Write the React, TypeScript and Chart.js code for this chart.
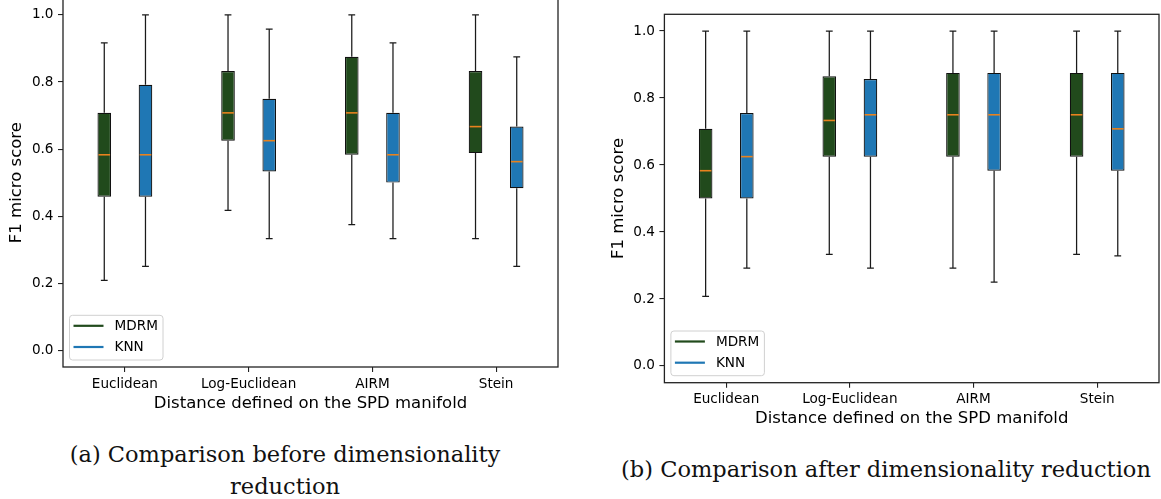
import React, { useEffect, useRef } from 'react';
import { Chart, registerables } from 'chart.js';

Chart.register(...registerables);

// ---------- data ----------
const CATEGORIES = ['Euclidean', 'Log-Euclidean', 'AIRM', 'Stein'];
const SERIES_LABELS = ['MDRM', 'KNN'];
const Y_TICKS = [0.0, 0.2, 0.4, 0.6, 0.8, 1.0];
const X_TITLE = 'Distance defined on the SPD manifold';
const Y_TITLE = 'F1 micro score';
const CAPTION_A_LINE1 = '(a) Comparison before dimensionality';
const CAPTION_A_LINE2 = 'reduction';
const CAPTION_B = '(b) Comparison after dimensionality reduction';

// (a) before dimensionality reduction
const MDRM_BEFORE_MIN = [0.208, 0.417, 0.375, 0.333];
const MDRM_BEFORE_Q1 = [0.458, 0.625, 0.583, 0.588];
const MDRM_BEFORE_MED = [0.583, 0.708, 0.708, 0.667];
const MDRM_BEFORE_Q3 = [0.708, 0.833, 0.875, 0.833];
const MDRM_BEFORE_MAX = [0.917, 1.0, 1.0, 1.0];

const KNN_BEFORE_MIN = [0.25, 0.333, 0.333, 0.25];
const KNN_BEFORE_Q1 = [0.458, 0.533, 0.5, 0.483];
const KNN_BEFORE_MED = [0.583, 0.625, 0.583, 0.5625];
const KNN_BEFORE_Q3 = [0.792, 0.75, 0.708, 0.667];
const KNN_BEFORE_MAX = [1.0, 0.958, 0.917, 0.875];

// (b) after dimensionality reduction
const MDRM_AFTER_MIN = [0.208, 0.333, 0.292, 0.333];
const MDRM_AFTER_Q1 = [0.5, 0.625, 0.625, 0.625];
const MDRM_AFTER_MED = [0.583, 0.733, 0.75, 0.75];
const MDRM_AFTER_Q3 = [0.708, 0.865, 0.875, 0.875];
const MDRM_AFTER_MAX = [1.0, 1.0, 1.0, 1.0];

const KNN_AFTER_MIN = [0.292, 0.292, 0.25, 0.329];
const KNN_AFTER_Q1 = [0.5, 0.625, 0.583, 0.583];
const KNN_AFTER_MED = [0.625, 0.75, 0.75, 0.708];
const KNN_AFTER_Q3 = [0.755, 0.857, 0.875, 0.875];
const KNN_AFTER_MAX = [1.0, 1.0, 1.0, 1.0];

// ---------- styles ----------
const GREEN = '#214a1c';
const BLUE = '#1f77b4';
const MEDIAN_COLOR = '#e8821e';
const EDGE = '#111111';
const SANS = 'DejaVu Sans';
const TICK_SIZE = 13.6;
const LABEL_SIZE = 16.5;

type BoxStats = { min: number[]; q1: number[]; med: number[]; q3: number[]; max: number[] };

function makeDataset(label: string, color: string, s: BoxStats) {
  return {
    label,
    data: s.q1.map((q, i) => [q, s.q3[i]]),
    backgroundColor: color,
    borderColor: EDGE,
    borderWidth: 1.2,
    borderSkipped: false,
    categoryPercentage: 0.666,
    barPercentage: 0.33,
    boxStats: s,
  };
}

const boxWhiskerPlugin = {
  id: 'boxWhiskers',
  afterDatasetsDraw(chart: any) {
    const ctx = chart.ctx;
    const y = chart.scales.y;
    chart.data.datasets.forEach((ds: any, di: number) => {
      const meta = chart.getDatasetMeta(di);
      const s: BoxStats = ds.boxStats;
      meta.data.forEach((bar: any, i: number) => {
        const x = bar.x;
        const w = bar.width;
        const yMin = y.getPixelForValue(s.min[i]);
        const yQ1 = y.getPixelForValue(s.q1[i]);
        const yMed = y.getPixelForValue(s.med[i]);
        const yQ3 = y.getPixelForValue(s.q3[i]);
        const yMax = y.getPixelForValue(s.max[i]);
        ctx.save();
        ctx.strokeStyle = '#1a1a1a';
        ctx.lineWidth = 1.25;
        ctx.beginPath();
        ctx.moveTo(x, yQ1);
        ctx.lineTo(x, yMin);
        ctx.moveTo(x, yQ3);
        ctx.lineTo(x, yMax);
        ctx.moveTo(x - w / 4, yMin);
        ctx.lineTo(x + w / 4, yMin);
        ctx.moveTo(x - w / 4, yMax);
        ctx.lineTo(x + w / 4, yMax);
        ctx.stroke();
        ctx.strokeStyle = MEDIAN_COLOR;
        ctx.lineWidth = 1.6;
        ctx.beginPath();
        ctx.moveTo(x - w / 2 + 1, yMed);
        ctx.lineTo(x + w / 2 - 1, yMed);
        ctx.stroke();
        ctx.restore();
      });
    });
  },
};

const frameLegendPlugin = {
  id: 'frameLegend',
  afterDraw(chart: any) {
    const { ctx, chartArea: a } = chart;
    ctx.save();
    ctx.strokeStyle = '#222222';
    ctx.lineWidth = 1.3;
    ctx.strokeRect(a.left, a.top, a.right - a.left, a.bottom - a.top);

    // legend (matplotlib style, lower left)
    const bw = 93.5;
    const bh = 44.7;
    const bx = a.left + 6.5;
    const by = a.bottom - 7 - bh;
    const r = 3;
    ctx.beginPath();
    ctx.moveTo(bx + r, by);
    ctx.lineTo(bx + bw - r, by);
    ctx.arcTo(bx + bw, by, bx + bw, by + r, r);
    ctx.lineTo(bx + bw, by + bh - r);
    ctx.arcTo(bx + bw, by + bh, bx + bw - r, by + bh, r);
    ctx.lineTo(bx + r, by + bh);
    ctx.arcTo(bx, by + bh, bx, by + bh - r, r);
    ctx.lineTo(bx, by + r);
    ctx.arcTo(bx, by, bx + r, by, r);
    ctx.closePath();
    ctx.fillStyle = 'rgba(255,255,255,0.85)';
    ctx.fill();
    ctx.strokeStyle = '#d0d0d0';
    ctx.lineWidth = 1;
    ctx.stroke();

    const rowY = [by + 10.5, by + 31.7];
    chart.data.datasets.forEach((ds: any, i: number) => {
      ctx.strokeStyle = ds.backgroundColor;
      ctx.lineWidth = 2.2;
      ctx.beginPath();
      ctx.moveTo(bx + 4, rowY[i]);
      ctx.lineTo(bx + 34, rowY[i]);
      ctx.stroke();
      ctx.fillStyle = '#000';
      ctx.font = `${TICK_SIZE}px "${SANS}"`;
      ctx.textBaseline = 'middle';
      ctx.textAlign = 'left';
      ctx.fillText(ds.label, bx + 45, rowY[i] + 0.5);
    });
    ctx.restore();
  },
};

type PanelProps = {
  left: number;
  top: number;
  width: number;
  height: number;
  padLeft: number;
  padTop: number;
  padRight: number;
  yAxisWidth: number;
  xAxisHeight: number;
  xTitlePadBottom: number;
  mdrm: BoxStats;
  knn: BoxStats;
};

function BoxPanel(p: PanelProps) {
  const ref = useRef<HTMLCanvasElement | null>(null);
  useEffect(() => {
    if (!ref.current) return;
    const grid = {
      display: true,
      drawOnChartArea: false,
      drawTicks: true,
      tickLength: 5,
      color: '#222',
      lineWidth: 1.1,
      offset: false,
    };
    const chart = new Chart(ref.current, {
      type: 'bar',
      data: {
        labels: CATEGORIES,
        datasets: [
          makeDataset(SERIES_LABELS[0], GREEN, p.mdrm),
          makeDataset(SERIES_LABELS[1], BLUE, p.knn),
        ] as any,
      },
      options: {
        responsive: false,
        animation: false,
        devicePixelRatio: 1,
        layout: { padding: { left: p.padLeft, top: p.padTop, right: p.padRight, bottom: 0 } },
        plugins: { legend: { display: false }, tooltip: { enabled: false } },
        scales: {
          x: {
            type: 'category',
            offset: true,
            grid,
            border: { display: false },
            ticks: {
              color: '#000',
              font: { family: SANS, size: TICK_SIZE },
              padding: 4,
              maxRotation: 0,
              autoSkip: false,
            },
            title: {
              display: true,
              text: X_TITLE,
              color: '#000',
              font: { family: SANS, size: LABEL_SIZE },
              padding: { top: 0, bottom: p.xTitlePadBottom },
            },
            afterFit: (s: any) => {
              s.height = p.xAxisHeight;
            },
          },
          y: {
            type: 'linear',
            min: -0.05,
            max: 1.05,
            afterBuildTicks: (s: any) => {
              s.ticks = Y_TICKS.map((v) => ({ value: v }));
            },
            grid,
            border: { display: false },
            ticks: {
              color: '#000',
              font: { family: SANS, size: TICK_SIZE },
              padding: 4.5,
              callback: (v: any) => Number(v).toFixed(1),
            },
            title: {
              display: true,
              text: Y_TITLE,
              color: '#000',
              font: { family: SANS, size: LABEL_SIZE },
              padding: { top: 7.1, bottom: 0 },
            },
            afterFit: (s: any) => {
              s.width = p.yAxisWidth;
            },
          },
        },
      } as any,
      plugins: [boxWhiskerPlugin, frameLegendPlugin],
    });
    return () => chart.destroy();
  }, []);
  return (
    <canvas
      ref={ref}
      width={p.width}
      height={p.height}
      style={{ position: 'absolute', left: p.left, top: p.top, width: p.width, height: p.height }}
    />
  );
}

const captionStyle: React.CSSProperties = {
  position: 'absolute',
  fontFamily: '"DejaVu Serif", serif',
  fontSize: 22.5,
  lineHeight: '32px',
  color: '#111',
  textAlign: 'center',
  whiteSpace: 'nowrap',
};

export default function App() {
  const before = {
    mdrm: { min: MDRM_BEFORE_MIN, q1: MDRM_BEFORE_Q1, med: MDRM_BEFORE_MED, q3: MDRM_BEFORE_Q3, max: MDRM_BEFORE_MAX },
    knn: { min: KNN_BEFORE_MIN, q1: KNN_BEFORE_Q1, med: KNN_BEFORE_MED, q3: KNN_BEFORE_Q3, max: KNN_BEFORE_MAX },
  };
  const after = {
    mdrm: { min: MDRM_AFTER_MIN, q1: MDRM_AFTER_Q1, med: MDRM_AFTER_MED, q3: MDRM_AFTER_Q3, max: MDRM_AFTER_MAX },
    knn: { min: KNN_AFTER_MIN, q1: KNN_AFTER_Q1, med: KNN_AFTER_MED, q3: KNN_AFTER_Q3, max: KNN_AFTER_MAX },
  };
  return (
    <div
      style={{
        position: 'absolute',
        left: 0,
        top: 0,
        width: 1161,
        height: 499,
        overflow: 'hidden',
        background: '#fff',
      }}
    >
      <BoxPanel
        left={0}
        top={-20}
        width={580}
        height={440}
        padLeft={0}
        padTop={18.2}
        padRight={22}
        yAxisWidth={63}
        xAxisHeight={53}
        xTitlePadBottom={6.5}
        mdrm={before.mdrm}
        knn={before.knn}
      />
      <BoxPanel
        left={580}
        top={0}
        width={581}
        height={440}
        padLeft={22}
        padTop={14.3}
        padRight={2}
        yAxisWidth={62.4}
        xAxisHeight={57.3}
        xTitlePadBottom={11.5}
        mdrm={after.mdrm}
        knn={after.knn}
      />
      <div style={{ ...captionStyle, left: 35, width: 500, top: 437.9 }}>
        {CAPTION_A_LINE1}
        <br />
        {CAPTION_A_LINE2}
      </div>
      <div style={{ ...captionStyle, left: 586, width: 600, top: 452.9 }}>{CAPTION_B}</div>
    </div>
  );
}
